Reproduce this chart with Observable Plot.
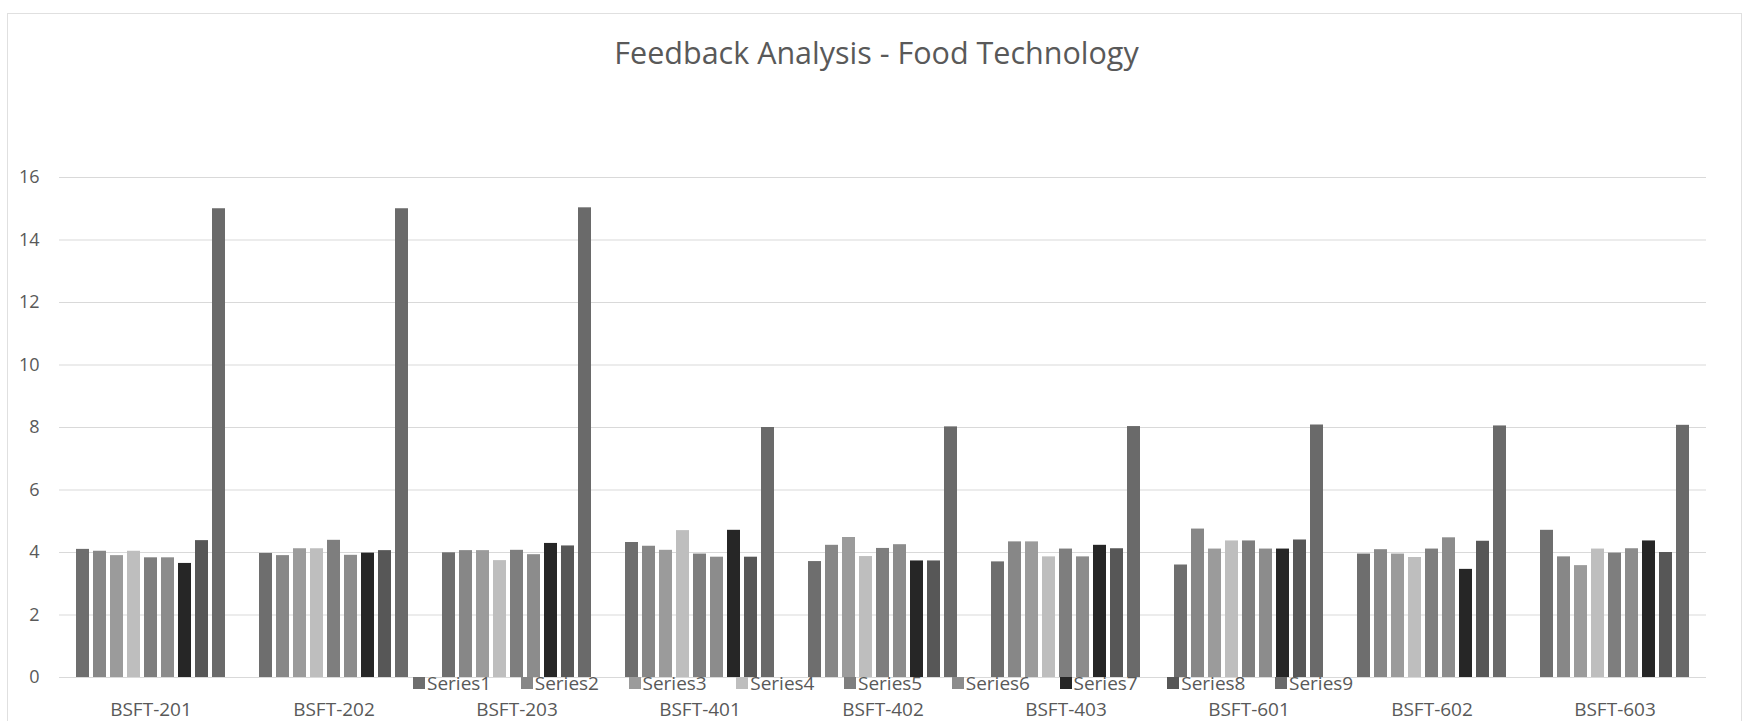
<!DOCTYPE html>
<html>
<head>
<meta charset="utf-8">
<script src="https://cdn.jsdelivr.net/npm/d3@7"></script>
<script src="https://cdn.jsdelivr.net/npm/@observablehq/plot@0.6"></script>
<style>
  body { margin: 0; background: #ffffff; }
  #wrap { position: relative; width: 1743px; height: 721px; overflow: hidden; font-family: "Open Sans", Lato, sans-serif; }
  #frame { position: absolute; left: 7px; top: 13px; width: 1733px; height: 720px; border: 1px solid #e0e0e0; border-bottom: none; }
  #title { position: absolute; left: 0; width: 1753px; top: 31px; line-height: 42px; text-align: center; font-size: 30.5px; color: #595959; }
  #chart { position: absolute; left: 0; top: 150px; }
  .item { position: absolute; top: 672px; height: 22px; display: flex; align-items: center; font-size: 19px; line-height: 20px; color: #595959; white-space: nowrap; }
  .sw { width: 12px; height: 12px; margin-right: 2px; }
</style>
</head>
<body>
<div id="wrap">
  <div id="frame"></div>
  <div id="title">Feedback Analysis - Food Technology</div>
  <div id="chart"></div>
  <div id="legend"></div>
</div>
<script>
const categories = ["BSFT-201", "BSFT-202", "BSFT-203", "BSFT-401", "BSFT-402", "BSFT-403", "BSFT-601", "BSFT-602", "BSFT-603"];
const seriesNames = ["Series1", "Series2", "Series3", "Series4", "Series5", "Series6", "Series7", "Series8", "Series9"];
const seriesColors = ["#6e6e6e", "#878787", "#9b9b9b", "#bebebe", "#7e7e7e", "#8c8c8c", "#262626", "#575757", "#6a6a6a"];
const yTicks = [0, 2, 4, 6, 8, 10, 12, 14, 16];

const series1 = [4.10, 3.97, 3.99, 4.32, 3.71, 3.70, 3.60, 3.95, 4.71];
const series2 = [4.04, 3.90, 4.06, 4.20, 4.23, 4.34, 4.75, 4.09, 3.86];
const series3 = [3.90, 4.12, 4.06, 4.07, 4.48, 4.34, 4.11, 3.95, 3.58];
const series4 = [4.04, 4.12, 3.74, 4.70, 3.87, 3.86, 4.37, 3.84, 4.11];
const series5 = [3.83, 4.39, 4.07, 3.95, 4.13, 4.11, 4.37, 4.11, 3.98];
const series6 = [3.83, 3.91, 3.93, 3.85, 4.25, 3.86, 4.11, 4.47, 4.12];
const series7 = [3.65, 3.98, 4.29, 4.71, 3.73, 4.23, 4.11, 3.46, 4.37];
const series8 = [4.38, 4.06, 4.21, 3.85, 3.73, 4.12, 4.40, 4.36, 4.00];
const series9 = [15.0, 15.0, 15.03, 8.0, 8.02, 8.03, 8.08, 8.05, 8.07];

const seriesValues = [series1, series2, series3, series4, series5, series6, series7, series8, series9];
const data = categories.flatMap((c, i) =>
  seriesNames.map((s, j) => ({category: c, series: s, value: seriesValues[j][i]}))
);

const plot = Plot.plot({
  width: 1743,
  height: 571,
  marginLeft: 57,
  marginRight: 36,
  marginTop: 27,
  marginBottom: 44,
  style: {fontFamily: "'Open Sans', Lato, sans-serif", fontSize: "18px", color: "#595959", background: "transparent"},
  fx: {domain: categories, padding: 0, label: null},
  x: {domain: seriesNames, paddingInner: 0.25, paddingOuter: 0.915, axis: null},
  y: {domain: [0, 16], label: null},
  color: {domain: seriesNames, range: seriesColors},
  marks: [
    Plot.gridY(yTicks, {stroke: "#d9d9d9", strokeOpacity: 1}),
    Plot.barY(data, {fx: "category", x: "series", y: "value", fill: "series"}),
    Plot.axisY(yTicks, {tickSize: 0, tickPadding: 20, label: null, fontSize: 18}),
    Plot.axisFx({anchor: "bottom", tickSize: 0, tickPadding: 25, label: null, fontSize: 19})
  ]
});
document.getElementById("chart").appendChild(plot);

const color = plot.scale("color");
const legend = document.getElementById("legend");
seriesNames.forEach((s, i) => {
  const item = document.createElement("div");
  item.className = "item";
  item.style.left = (413 + i * 107.75) + "px";
  const sw = document.createElement("div");
  sw.className = "sw";
  sw.style.background = color.apply(s);
  const label = document.createElement("span");
  label.textContent = s;
  item.appendChild(sw);
  item.appendChild(label);
  legend.appendChild(item);
});
</script>
</body>
</html>
